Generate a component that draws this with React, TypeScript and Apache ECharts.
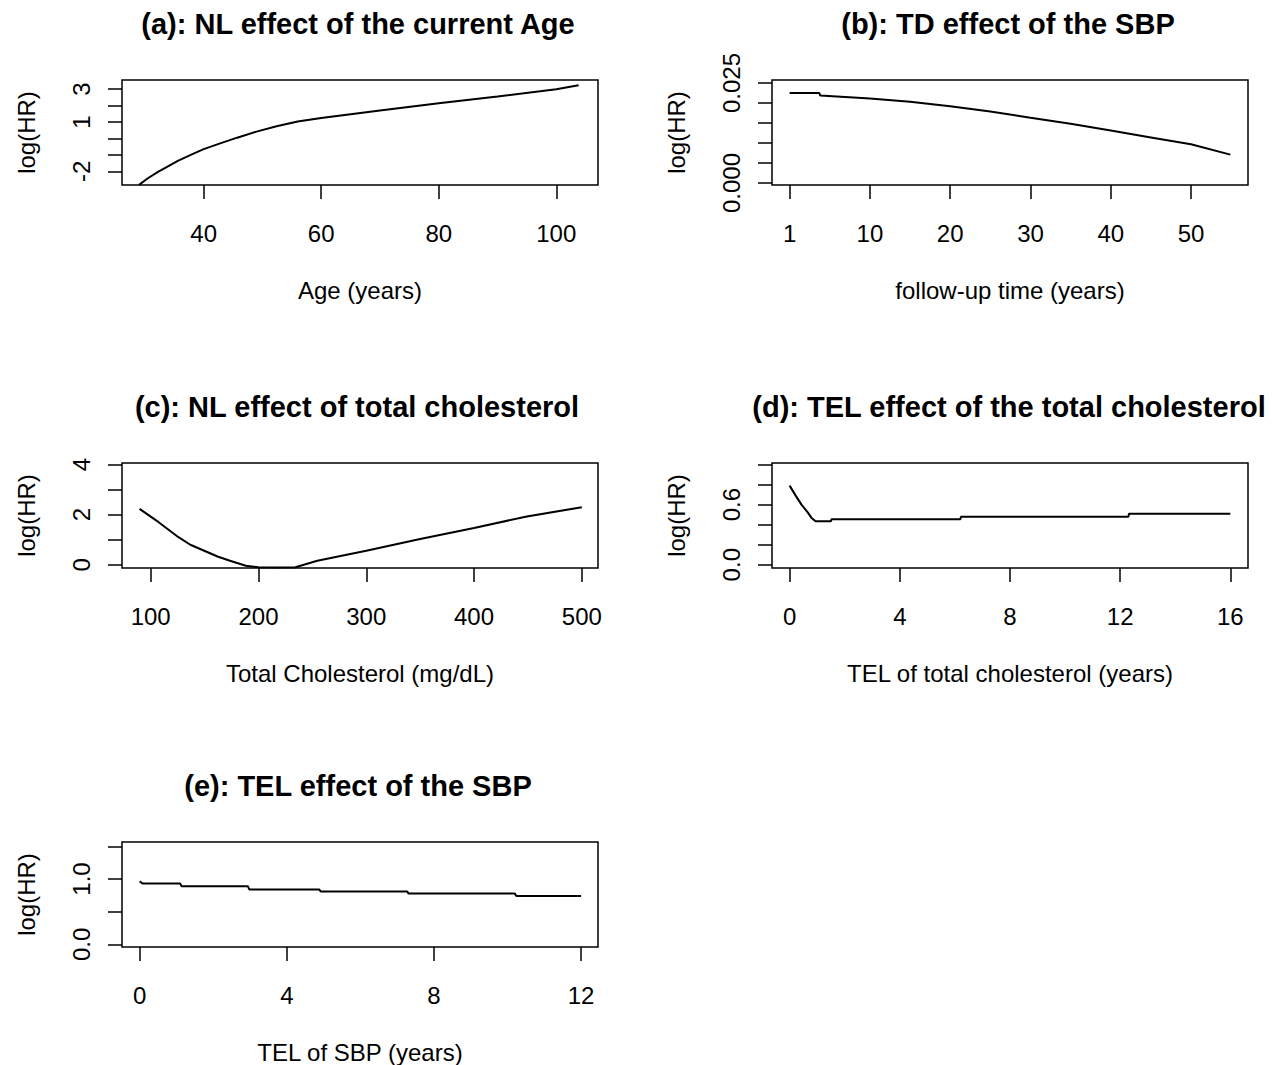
import React, { useEffect, useRef } from 'react';
import * as echarts from 'echarts';

const FONT = "'Liberation Sans', Arial, Helvetica, sans-serif";

// ---- Panel titles and axis names ----
const titles = [
  '(a): NL effect of the current Age',
  '(b): TD effect of the SBP',
  '(c): NL effect of total cholesterol',
  '(d): TEL effect of the total cholesterol',
  '(e): TEL effect of the SBP',
];
const xNames = [
  'Age (years)',
  'follow-up time (years)',
  'Total Cholesterol (mg/dL)',
  'TEL of total cholesterol (years)',
  'TEL of SBP (years)',
];
const yName = 'log(HR)';

// ---- (a) NL effect of the current Age ----
const ageX = [29, 30.5, 32.3, 34, 35.6, 37.8, 40, 42.8, 45.7, 49, 52.4, 56, 60, 70, 80, 90, 100, 103.8];
const ageY = [-2.82, -2.42, -2.02, -1.68, -1.36, -1.0, -0.65, -0.3, 0.05, 0.42, 0.75, 1.03, 1.25, 1.71, 2.15, 2.56, 3.0, 3.24];
const aXTicks = [40, 60, 80, 100];
const aXLabels = ['40', '60', '80', '100'];
const aYTicks = [-2, -1, 0, 1, 2, 3];
const aYLabelValues = [-2, 1, 3];

// ---- (b) TD effect of the SBP ----
const fuX = [0, 3.7, 3.8, 10, 15, 20, 25, 30, 35, 40, 45, 50, 54.9];
const fuY = [0.0225, 0.0225, 0.0219, 0.0211, 0.0203, 0.0192, 0.0179, 0.0163, 0.0148, 0.0131, 0.0114, 0.0097, 0.0071];
const bXTicks = [0, 10, 20, 30, 40, 50];
const bXLabels = ['1', '10', '20', '30', '40', '50'];
const bYTicks = [0, 0.005, 0.01, 0.015, 0.02, 0.025];
const bYLabelValues = [0, 0.025];

// ---- (c) NL effect of total cholesterol ----
const cholX = [89.7, 107.4, 125.8, 136.8, 149.7, 162.6, 173.6, 188.3, 200, 215, 234.3, 254.6, 300, 350, 400, 449, 500];
const cholY = [2.23, 1.7, 1.1, 0.8, 0.56, 0.32, 0.16, -0.04, -0.1, -0.11, -0.1, 0.16, 0.56, 1.03, 1.47, 1.93, 2.3];
const cXTicks = [100, 200, 300, 400, 500];
const cXLabels = ['100', '200', '300', '400', '500'];
const cYTicks = [0, 1, 2, 3, 4];
const cYLabelValues = [0, 2, 4];

// ---- (d) TEL effect of total cholesterol ----
const telCX = [0, 0.22, 0.43, 0.65, 0.79, 0.94, 1.5, 1.52, 6.2, 6.22, 12.3, 12.32, 16];
const telCY = [0.79, 0.69, 0.6, 0.525, 0.47, 0.435, 0.435, 0.455, 0.455, 0.48, 0.48, 0.51, 0.51];
const dXTicks = [0, 4, 8, 12, 16];
const dXLabels = ['0', '4', '8', '12', '16'];
const dYTicks = [0, 0.2, 0.4, 0.6, 0.8, 1.0];
const dYLabelValues = [0, 0.6];

// ---- (e) TEL effect of the SBP ----
const telSX = [0, 0.08, 1.1, 1.14, 2.94, 2.98, 4.88, 4.92, 7.27, 7.31, 10.2, 10.24, 12];
const telSY = [0.964, 0.93, 0.93, 0.89, 0.89, 0.84, 0.84, 0.81, 0.81, 0.776, 0.776, 0.74, 0.74];
const eXTicks = [0, 4, 8, 12];
const eXLabels = ['0', '4', '8', '12'];
const eYTicks = [0, 0.5, 1.0, 1.5];
const eYLabelValues = [0, 1.0];

export default function App() {
  const ref = useRef<HTMLDivElement>(null);

  useEffect(() => {
    if (!ref.current) return;
    const chart = echarts.init(ref.current, null, { renderer: 'svg' });

    const panels = [
      {
        left: 122, top: 80, xs: ageX, ys: ageY,
        xMin: 26.1, xMax: 107.1, yMin: -2.83, yMax: 3.56,
        xTicks: aXTicks, xLabels: aXLabels, yTicks: aYTicks, yLabels: aYLabelValues,
        yFmt: (v: number) => String(v), titleX: 358,
      },
      {
        left: 772, top: 80, xs: fuX, ys: fuY,
        xMin: -2.2, xMax: 57.1, yMin: -0.0005, yMax: 0.02575,
        xTicks: bXTicks, xLabels: bXLabels, yTicks: bYTicks, yLabels: bYLabelValues,
        yFmt: (v: number) => v.toFixed(3), titleX: 1008,
      },
      {
        left: 122, top: 463, xs: cholX, ys: cholY,
        xMin: 73.4, xMax: 515, yMin: -0.13, yMax: 4.065,
        xTicks: cXTicks, xLabels: cXLabels, yTicks: cYTicks, yLabels: cYLabelValues,
        yFmt: (v: number) => String(v), titleX: 357,
      },
      {
        left: 772, top: 463, xs: telCX, ys: telCY,
        xMin: -0.64, xMax: 16.64, yMin: -0.033, yMax: 1.016,
        xTicks: dXTicks, xLabels: dXLabels, yTicks: dYTicks, yLabels: dYLabelValues,
        yFmt: (v: number) => v.toFixed(1), titleX: 1009,
      },
      {
        left: 122, top: 842, xs: telSX, ys: telSY,
        xMin: -0.48, xMax: 12.46, yMin: -0.041, yMax: 1.566,
        xTicks: eXTicks, xLabels: eXLabels, yTicks: eYTicks, yLabels: eYLabelValues,
        yFmt: (v: number) => v.toFixed(1), titleX: 358,
      },
    ];

    const W = 476;
    const H = 105;
    const textStyle = { color: '#000', fontFamily: FONT, fontSize: 24 };

    const option: any = {
      animation: false,
      backgroundColor: '#fff',
      grid: panels.map((p) => ({
        left: p.left, top: p.top, width: W, height: H,
        show: true, borderColor: '#000', borderWidth: 1.5,
        backgroundColor: 'transparent', containLabel: false,
      })),
      xAxis: panels.map((p, i) => ({
        type: 'value', gridIndex: i, min: p.xMin, max: p.xMax, position: 'bottom',
        axisLine: { show: false, onZero: false },
        splitLine: { show: false },
        axisTick: {
          show: true, length: 14, inside: false,
          customValues: p.xTicks,
          lineStyle: { color: '#000', width: 1.5 },
        },
        axisLabel: {
          show: true, margin: 36, ...textStyle,
          customValues: p.xTicks,
          hideOverlap: false,
          formatter: (v: number) => {
            const k = p.xTicks.indexOf(v);
            return k >= 0 ? p.xLabels[k] : '';
          },
        },
        name: xNames[i], nameLocation: 'middle', nameGap: 93,
        nameTextStyle: { ...textStyle },
      })),
      yAxis: panels.map((p, i) => ({
        type: 'value', gridIndex: i, min: p.yMin, max: p.yMax, position: 'left',
        axisLine: { show: false, onZero: false },
        splitLine: { show: false },
        axisTick: {
          show: true, length: 14, inside: false,
          customValues: p.yTicks,
          lineStyle: { color: '#000', width: 1.5 },
        },
        axisLabel: {
          show: true, margin: 29, rotate: 90, ...textStyle,
          customValues: p.yLabels,
          hideOverlap: false,
          formatter: (v: number) => p.yFmt(v),
        },
        name: yName, nameLocation: 'middle', nameGap: 84, nameRotate: 90,
        nameTextStyle: { ...textStyle },
      })),
      series: panels.map((p, i) => ({
        type: 'line', xAxisIndex: i, yAxisIndex: i,
        data: p.xs.map((x, k) => [x, p.ys[k]]),
        showSymbol: false, symbol: 'none',
        lineStyle: { color: '#000', width: 2 },
        silent: true,
      })),
      graphic: panels.map((p, i) => ({
        type: 'text',
        x: p.titleX,
        y: p.top - 56,
        style: {
          text: titles[i],
          fill: '#000',
          font: `bold 29px ${FONT}`,
          textAlign: 'center',
          textVerticalAlign: 'middle',
        },
      })),
    };

    chart.setOption(option);
    return () => chart.dispose();
  }, []);

  return (
    <div
      ref={ref}
      style={{ position: 'fixed', left: 0, top: 0, width: 1272, height: 1065, background: '#fff' }}
    />
  );
}
